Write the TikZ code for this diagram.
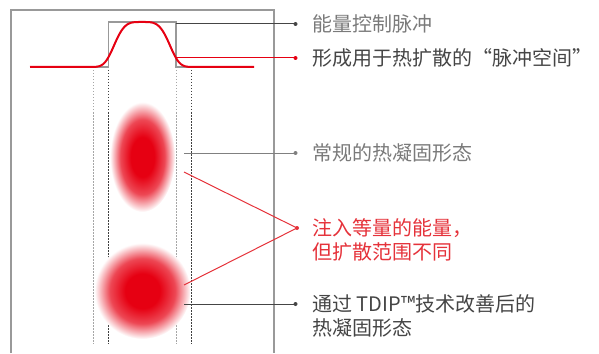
\documentclass[tikz,border=0pt]{standalone}
\usepackage{fontspec}
\setmainfont{Noto Sans CJK SC}
\definecolor{pulsered}{HTML}{E60012}
\definecolor{tagred}{HTML}{E5323A}
\definecolor{labelgray}{HTML}{7A7A7A}
\definecolor{labeldark}{HTML}{454545}
\pgfdeclareradialshading{heatblob}{\pgfpoint{0bp}{0bp}}{color(0bp)=(pulsered); color(9bp)=(pulsered); color(17bp)=(pulsered!72); color(25bp)=(white); color(50bp)=(white)}
\begin{document}
\begin{tikzpicture}[x=0.5pt,y=-0.5pt,font=\fontsize{10}{12.25}\selectfont,
	lead/.style={line width=0.5pt},
	tag/.style={anchor=west,inner sep=0pt,align=left}]
	\useasboundingbox (0,0) rectangle (599,353);
	\draw[gray!80,line width=0.75pt] (11,353)--(11,10)--(274,10)--(274,353);
	\foreach \x/\c in {93/gray!70,108.5/black!75,176/gray!70,191.5/black!75}{\draw[\c,line width=0.5pt,dash pattern=on 0.75pt off 0.75pt] (\x,67)--(\x,344);}
	\draw[gray!80,line width=0.75pt] (93,67)--(108.5,67)--(108.5,22)--(176,22)--(176,67)--(191.5,67);
	\draw[pulsered,line width=1pt] (30,67) -- plot[smooth,domain=93:191,samples=50] (\x,{67-45*exp(-pow(abs(\x-142)/30.2,4))}) -- (254,67);
	\shade[shading=heatblob] (142.5,157) ellipse [x radius=16.25pt, y radius=27.5pt];
	\shade[shading=heatblob] (142.5,291) circle (24pt);
	% leader ends
	\coordinate (ctrl) at (176,24); \coordinate (ctrldot) at (295.5,24);
	\coordinate (space) at (176,58); \coordinate (spacedot) at (295.5,58);
	\coordinate (normal) at (184,153); \coordinate (normaldot) at (295.5,153);
	\coordinate (normalrim) at (184,172); \coordinate (tdiprim) at (184,285); \coordinate (equaldot) at (297,228);
	\coordinate (tdip) at (184,304); \coordinate (tdipdot) at (295.5,304);
	\node[tag,labelgray] (ctrltext) at (312,24) {能量控制脉冲};
	\node[tag,labeldark] (spacetext) at (312,58) {形成用于热扩散的“脉冲空间”};
	\node[tag,labelgray] (normaltext) at (312,153) {常规的热凝固形态};
	\node[tag,tagred] (equaltext) at (312,240) {注入等量的能量，\\但扩散范围不同};
	\node[tag,labeldark] (tdiptext) at (312,316) {通过 TDIP™技术改善后的\\热凝固形态};
	\draw[lead,labeldark] (ctrl)--(ctrldot);
	\draw[lead,pulsered] (space)--(spacedot);
	\draw[lead,gray] (normal)--(normaldot);
	\draw[lead,tagred] (normalrim)--(equaldot)--(tdiprim);
	\draw[lead,labeldark] (tdip)--(tdipdot);
	\foreach \d/\c in {ctrldot/labeldark,spacedot/pulsered,normaldot/gray,equaldot/tagred,tdipdot/labeldark}{\fill[\c] (\d) circle (1pt);}
\end{tikzpicture}
\end{document}
